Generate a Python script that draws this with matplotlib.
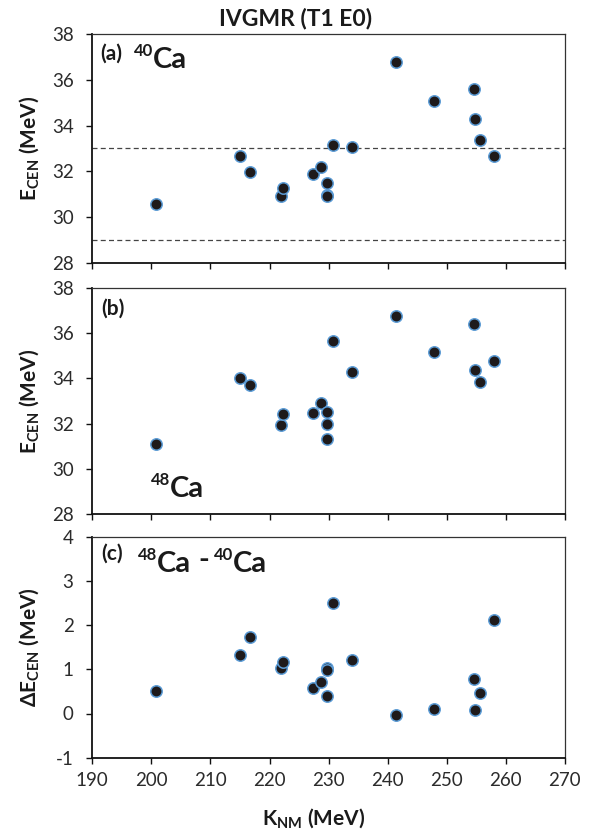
import matplotlib
matplotlib.use("Agg")
import matplotlib.pyplot as plt

plt.rcParams['font.family'] = ['Lato', 'DejaVu Sans']
plt.rcParams['mathtext.fontset'] = 'custom'
plt.rcParams['mathtext.rm'] = 'Lato'
plt.rcParams['mathtext.bf'] = 'Lato:bold'
plt.rcParams['mathtext.it'] = 'Lato:italic'
plt.rcParams['axes.unicode_minus'] = False

# Nuclear-matter incompressibility of each interaction (MeV)
k_nm = [200.8, 215.0, 216.7, 221.9, 222.2, 227.4, 228.7, 229.7, 229.8,
        229.8, 230.8, 234.0, 241.4, 247.9, 254.6, 254.8, 255.6, 258.0]
# Centroid energies of the IVGMR (MeV)
e_ca40 = [30.55, 32.69, 31.99, 30.93, 31.27, 31.88, 32.19, 31.50, 30.96,
          30.92, 33.17, 33.07, 36.80, 35.07, 35.61, 34.29, 33.37, 32.67]
e_ca48 = [31.08, 34.01, 33.71, 31.95, 32.44, 32.47, 32.90, 32.53, 31.98,
          31.31, 35.68, 34.29, 36.77, 35.17, 36.40, 34.38, 33.84, 34.79]
de_cen = [0.52, 1.32, 1.72, 1.02, 1.17, 0.58, 0.71, 1.03, 0.98,
          0.40, 2.51, 1.21, -0.03, 0.10, 0.79, 0.09, 0.47, 2.12]
# Experimental bounds for 40Ca (MeV)
exp_bounds = [29.0, 33.0]

x_ticks = [190, 200, 210, 220, 230, 240, 250, 260, 270]
e_ticks = [28, 30, 32, 34, 36, 38]
de_ticks = [-1, 0, 1, 2, 3, 4]

W, H = 601, 832
fig = plt.figure(figsize=(W / 100, H / 100), dpi=100)

def px_axes(top, bottom, left=92.3, right=564.9):
    return fig.add_axes([left / W, 1 - bottom / H, (right - left) / W, (bottom - top) / H])

ax_a = px_axes(34.3, 262.7)
ax_b = px_axes(288.3, 513.7)
ax_c = px_axes(536.7, 757.7)

tick_color = '#2b2b2b'
marker_kw = dict(marker='o', linestyle='none', markersize=8.2,
                 markerfacecolor='#1e1a1b', markeredgecolor='#5b9bd5',
                 markeredgewidth=1.1, zorder=3)

for ax in (ax_a, ax_b, ax_c):
    ax.set_xlim(190, 270)
    ax.set_xticks(x_ticks)
    for side in ('left', 'bottom'):
        ax.spines[side].set_linewidth(1.3)
        ax.spines[side].set_color('#111111')
    for side in ('top', 'right'):
        ax.spines[side].set_linewidth(0.9)
        ax.spines[side].set_color('#333333')
    ax.tick_params(axis='both', direction='out', length=4.5, width=1.0,
                   colors='#111111', labelcolor=tick_color, labelsize=13.5,
                   top=False, right=False)
    ax.tick_params(axis='y', pad=9)
    ax.tick_params(axis='x', pad=6)

for ax in (ax_a, ax_b):
    ax.set_ylim(28, 38)
    ax.set_yticks(e_ticks)
    ax.tick_params(axis='x', labelbottom=False)

ax_c.set_ylim(-1, 4)
ax_c.set_yticks(de_ticks)

# Experimental window for 40Ca
for yb in exp_bounds:
    ax_a.axhline(yb, color='#444444', linewidth=0.9, linestyle=(0, (4, 2.6)), zorder=1)

ax_a.plot(k_nm, e_ca40, **marker_kw)
ax_b.plot(k_nm, e_ca48, **marker_kw)
ax_c.plot(k_nm, de_cen, **marker_kw)

label_kw = dict(fontsize=15, fontweight='bold', color='#1a1a1a')
ax_a.set_ylabel(r'E$_\mathbf{CEN}$ (MeV)', va='center', **label_kw)
ax_b.set_ylabel(r'E$_\mathbf{CEN}$ (MeV)', va='center', **label_kw)
ax_c.set_ylabel(r'ΔE$_\mathbf{CEN}$ (MeV)', va='center', **label_kw)
for ax in (ax_a, ax_b, ax_c):
    ax.yaxis.set_label_coords(-0.134, 0.5)

ax_c.set_xlabel(r'K$_\mathbf{NM}$ (MeV)', va='baseline', **label_kw)
ax_c.xaxis.set_label_coords(0.469, -0.305)

fig.text(296 / W, 1 - 25 / H, 'IVGMR (T1 E0)', ha='center', va='baseline',
         fontsize=16.5, fontweight='bold', color='#1a1a1a')


def fig_text(x_px, y_px, s, size, **kw):
    fig.text(x_px / W, 1 - y_px / H, s, fontsize=size, fontweight='bold',
             color='#1a1a1a', va='baseline', **kw)


def isotope(x_px, y_px, mass, size=21, sup=12):
    fig_text(x_px, y_px - 12, mass, sup, ha='right')
    fig_text(x_px, y_px, 'Ca', size, ha='left')


# Panel (a)
fig_text(100, 60, '(a)', 15)
isotope(153, 68, '40')
# Panel (b)
fig_text(101, 315, '(b)', 15)
isotope(170, 497, '48')
# Panel (c)
fig_text(101, 560, '(c)', 15)
isotope(157, 572, '48')
fig_text(198, 568, '-', 21)
isotope(233, 572, '40')

fig.savefig('out.png', dpi=100)
